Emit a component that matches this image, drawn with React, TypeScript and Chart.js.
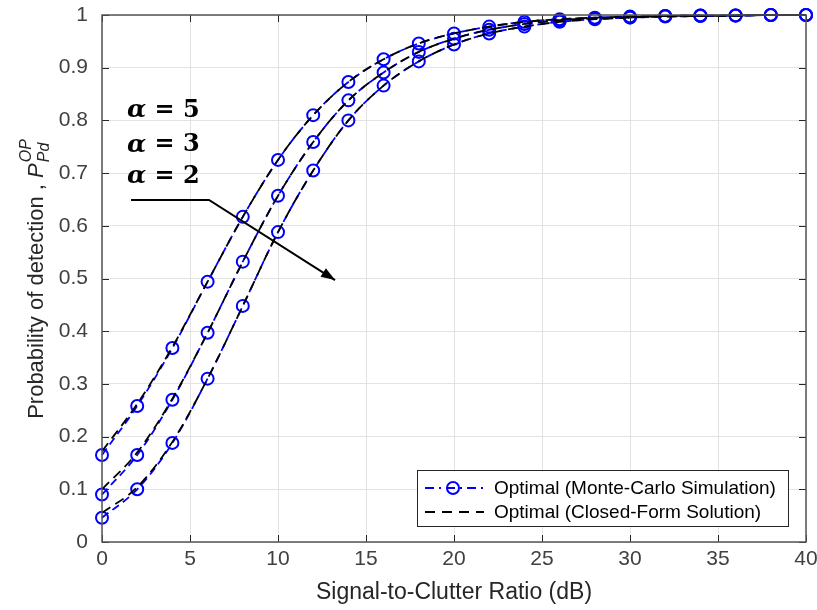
import React, { useEffect, useRef } from "react";
import { Chart, registerables } from "chart.js";

Chart.register(...registerables);

const snr = [0, 2, 4, 6, 8, 10, 12, 14, 16, 18, 20, 22, 24, 26, 28, 30, 32, 34, 36, 38, 40];

const mcAlpha5 = [0.165, 0.258, 0.368, 0.494, 0.617, 0.725, 0.81, 0.873, 0.916, 0.946, 0.965, 0.978, 0.987, 0.992, 0.995, 0.997, 0.998, 0.999, 0.999, 1.0, 1.0];
const mcAlpha3 = [0.09, 0.165, 0.27, 0.397, 0.532, 0.657, 0.759, 0.838, 0.891, 0.93, 0.955, 0.972, 0.983, 0.99, 0.994, 0.996, 0.998, 0.999, 0.999, 1.0, 1.0];
const mcAlpha2 = [0.046, 0.1, 0.188, 0.31, 0.448, 0.588, 0.705, 0.8, 0.866, 0.912, 0.944, 0.965, 0.978, 0.987, 0.992, 0.995, 0.997, 0.998, 0.999, 1.0, 1.0];

const cfAlpha5 = [0.172, 0.262, 0.37, 0.494, 0.617, 0.725, 0.81, 0.873, 0.916, 0.946, 0.965, 0.978, 0.987, 0.992, 0.995, 0.997, 0.998, 0.999, 0.999, 1.0, 1.0];
const cfAlpha3 = [0.1, 0.17, 0.272, 0.397, 0.532, 0.657, 0.759, 0.838, 0.891, 0.93, 0.955, 0.972, 0.983, 0.99, 0.994, 0.996, 0.998, 0.999, 0.999, 1.0, 1.0];
const cfAlpha2 = [0.055, 0.104, 0.19, 0.31, 0.448, 0.588, 0.705, 0.8, 0.866, 0.912, 0.944, 0.965, 0.978, 0.987, 0.992, 0.995, 0.997, 0.998, 0.999, 1.0, 1.0];

const alphaLabels = ["5", "3", "2"];
const alphaTextX = 1.42;
const alphaTextY = [0.818, 0.753, 0.693];
const arrowPath = [
  [1.65, 0.649],
  [6.08, 0.649],
  [13.24, 0.497],
];

const legendLabels = ["Optimal (Monte-Carlo Simulation)", "Optimal (Closed-Form Solution)"];
const xTitle = "Signal-to-Clutter Ratio (dB)";
const yTitleMain = "Probability of detection , ";

const BLUE = "#0000ff";
const SANS = "'Liberation Sans', Arial, Helvetica, sans-serif";
const SERIF = "'DejaVu Serif', 'Liberation Serif', serif";

const overlayPlugin = {
  id: "overlay",
  afterDatasetsDraw(chart: any) {
    const { ctx, chartArea, scales } = chart;
    const xs = scales.x;
    const ys = scales.y;
    ctx.save();

    ctx.strokeStyle = "#262626";
    ctx.lineWidth = 1;
    const tl = 7;
    xs.ticks.forEach((t: any) => {
      const px = Math.round(xs.getPixelForValue(t.value)) + 0.5;
      ctx.beginPath();
      ctx.moveTo(px, chartArea.bottom);
      ctx.lineTo(px, chartArea.bottom - tl);
      ctx.moveTo(px, chartArea.top);
      ctx.lineTo(px, chartArea.top + tl);
      ctx.stroke();
    });
    ys.ticks.forEach((t: any) => {
      const py = Math.round(ys.getPixelForValue(t.value)) + 0.5;
      ctx.beginPath();
      ctx.moveTo(chartArea.left, py);
      ctx.lineTo(chartArea.left + tl, py);
      ctx.moveTo(chartArea.right, py);
      ctx.lineTo(chartArea.right - tl, py);
      ctx.stroke();
    });
    ctx.strokeStyle = "#555555";
    ctx.lineWidth = 1.5;
    ctx.strokeRect(chartArea.left, chartArea.top, chartArea.right - chartArea.left, chartArea.bottom - chartArea.top);

    ctx.fillStyle = "#000";
    ctx.textBaseline = "middle";
    ctx.textAlign = "left";
    alphaLabels.forEach((lab, i) => {
      const px = xs.getPixelForValue(alphaTextX);
      const py = ys.getPixelForValue(alphaTextY[i]);
      ctx.font = "italic bold 25px " + SERIF;
      ctx.fillText("α", px, py);
      const w = ctx.measureText("α").width;
      ctx.font = "bold 24px " + SERIF;
      ctx.fillText(" = " + lab, px + w, py);
    });

    const pts = arrowPath.map((p) => [xs.getPixelForValue(p[0]), ys.getPixelForValue(p[1])]);
    ctx.strokeStyle = "#000";
    ctx.lineWidth = 2;
    ctx.beginPath();
    ctx.moveTo(pts[0][0], pts[0][1]);
    for (let i = 1; i < pts.length; i++) ctx.lineTo(pts[i][0], pts[i][1]);
    ctx.stroke();
    const [ex, ey] = pts[pts.length - 1];
    const [sx, sy] = pts[pts.length - 2];
    const ang = Math.atan2(ey - sy, ex - sx);
    const hl = 14;
    const hw = 5;
    ctx.fillStyle = "#000";
    ctx.beginPath();
    ctx.moveTo(ex, ey);
    ctx.lineTo(ex - hl * Math.cos(ang) + hw * Math.sin(ang), ey - hl * Math.sin(ang) - hw * Math.cos(ang));
    ctx.lineTo(ex - hl * Math.cos(ang) - hw * Math.sin(ang), ey - hl * Math.sin(ang) + hw * Math.cos(ang));
    ctx.closePath();
    ctx.fill();

    const lx = 417, ly = 470, lw = 371, lh = 56;
    ctx.fillStyle = "#fff";
    ctx.fillRect(lx, ly, lw, lh);
    ctx.strokeStyle = "#262626";
    ctx.lineWidth = 1;
    ctx.strokeRect(lx + 0.5, ly + 0.5, lw, lh);
    const rowY = [488, 512];
    ctx.lineWidth = 2;
    ctx.strokeStyle = BLUE;
    ctx.setLineDash([9, 5, 2, 5]);
    ctx.beginPath();
    ctx.moveTo(425, rowY[0]);
    ctx.lineTo(484, rowY[0]);
    ctx.stroke();
    ctx.setLineDash([]);
    ctx.beginPath();
    ctx.arc(453, rowY[0], 6, 0, Math.PI * 2);
    ctx.stroke();
    ctx.strokeStyle = "#000";
    ctx.setLineDash([10, 7]);
    ctx.beginPath();
    ctx.moveTo(425, rowY[1]);
    ctx.lineTo(484, rowY[1]);
    ctx.stroke();
    ctx.setLineDash([]);
    ctx.fillStyle = "#000";
    ctx.font = "19px " + SANS;
    ctx.textAlign = "left";
    ctx.textBaseline = "middle";
    legendLabels.forEach((t, i) => ctx.fillText(t, 494, rowY[i] + 1));

    const cy = (chartArea.top + chartArea.bottom) / 2;
    ctx.translate(36, cy);
    ctx.rotate(-Math.PI / 2);
    ctx.fillStyle = "#262626";
    ctx.textBaseline = "alphabetic";
    ctx.font = "22px " + SANS;
    const w1 = ctx.measureText(yTitleMain).width;
    ctx.font = "italic 22px " + SANS;
    const wp = ctx.measureText("P").width;
    ctx.font = "italic 16px " + SANS;
    const wsup = ctx.measureText("OP").width;
    const wsub = ctx.measureText("Pd").width;
    const total = w1 + wp + Math.max(wsup, wsub) + 2;
    let x0 = -total / 2;
    const base = 7;
    ctx.font = "22px " + SANS;
    ctx.fillText(yTitleMain, x0, base);
    x0 += w1;
    ctx.font = "italic 22px " + SANS;
    ctx.fillText("P", x0, base);
    x0 += wp + 1;
    ctx.font = "italic 16px " + SANS;
    ctx.fillText("OP", x0, base - 12);
    ctx.fillText("Pd", x0, base + 6);

    ctx.restore();
  },
};

export default function App() {
  const ref = useRef<HTMLCanvasElement | null>(null);
  useEffect(() => {
    if (!ref.current) return;
    const mk = (data: number[], i: number) => ({
      label: "mc" + i,
      data: snr.map((x, k) => ({ x, y: data[k] })),
      borderColor: BLUE,
      borderWidth: 1.8,
      borderDash: [8, 5],
      pointStyle: "circle",
      pointRadius: 6,
      pointBorderWidth: 2,
      pointBorderColor: BLUE,
      pointBackgroundColor: "rgba(0,0,0,0)",
      tension: 0.4,
      cubicInterpolationMode: "monotone",
      fill: false,
      clip: false,
      order: 2,
    });
    const cf = (data: number[], i: number) => ({
      label: "cf" + i,
      data: snr.map((x, k) => ({ x, y: data[k] })),
      borderColor: "#000",
      borderWidth: 1.8,
      borderDash: [10, 6],
      pointRadius: 0,
      tension: 0.4,
      cubicInterpolationMode: "monotone",
      fill: false,
      clip: false,
      order: 1,
    });
    const chart = new Chart(ref.current, {
      type: "line",
      data: {
        datasets: [
          mk(mcAlpha5, 5),
          mk(mcAlpha3, 3),
          mk(mcAlpha2, 2),
          cf(cfAlpha5, 5),
          cf(cfAlpha3, 3),
          cf(cfAlpha2, 2),
        ] as any,
      },
      options: {
        animation: false,
        responsive: false,
        maintainAspectRatio: false,
        layout: { padding: { top: 15, right: 11, left: 0, bottom: 0 } },
        plugins: { legend: { display: false }, tooltip: { enabled: false } },
        scales: {
          x: {
            type: "linear",
            min: 0,
            max: 40,
            ticks: { stepSize: 5, color: "#404040", font: { size: 21, family: SANS }, padding: 5 },
            grid: { color: "#e3e3e3", lineWidth: 1, drawTicks: false },
            border: { display: false },
            title: { display: true, text: xTitle, color: "#262626", font: { size: 23, family: SANS }, padding: { top: 3 } },
            afterFit: (s: any) => {
              s.height = 68;
              s.paddingLeft = 0;
              s.paddingRight = 0;
            },
          },
          y: {
            type: "linear",
            min: 0,
            max: 1,
            ticks: {
              stepSize: 0.1,
              color: "#404040",
              font: { size: 21, family: SANS },
              padding: 14,
              callback: (v: any) => String(Math.round(Number(v) * 10) / 10),
            },
            grid: { color: "#e3e3e3", lineWidth: 1, drawTicks: false },
            border: { display: false },
            afterFit: (s: any) => {
              s.width = 102;
              s.paddingTop = 0;
              s.paddingBottom = 0;
            },
          },
        },
      },
      plugins: [overlayPlugin],
    });
    return () => chart.destroy();
  }, []);
  return (
    <div style={{ position: "fixed", left: 0, top: 0, width: 817, height: 610, background: "#fff" }}>
      <canvas ref={ref} width={817} height={610} style={{ width: 817, height: 610 }} />
    </div>
  );
}
